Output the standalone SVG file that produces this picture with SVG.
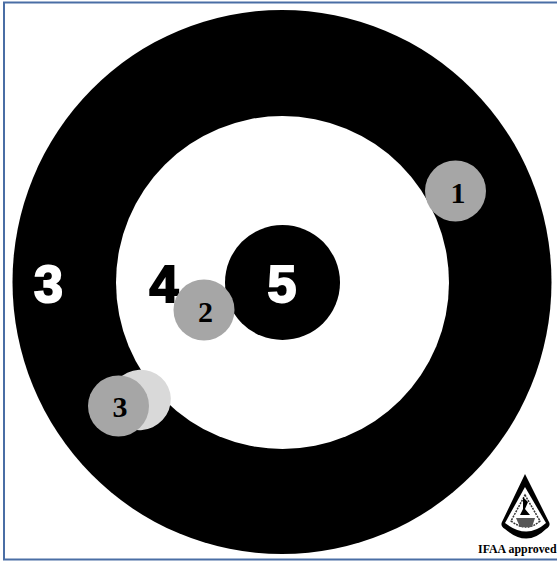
<svg xmlns="http://www.w3.org/2000/svg" width="557" height="561" viewBox="0 0 557 561">
<style>
.big{font-family:"Liberation Sans",Arial,sans-serif;font-weight:700;font-size:52px;text-anchor:middle;stroke-width:2}
.num{font-family:"Liberation Serif","Times New Roman",serif;font-weight:700;font-size:30px;text-anchor:middle;fill:#000}
.hit{fill:#a6a6a6}
</style>
<rect width="557" height="561" fill="#fff"/>
<g id="target">
<ellipse id="ring-outer" cx="282" cy="282" rx="269.500" ry="272" fill="#000"/>
<circle id="ring-inner" cx="282.500" cy="282.500" r="166.500" fill="#fff"/>
<circle id="ring-center" cx="282.500" cy="282.500" r="57.500" fill="#000"/>
<text class="big" x="48.500" y="302" fill="#fff" stroke="#fff">3</text>
<text class="big" x="164" y="302" fill="#000" stroke="#000">4</text>
<text class="big" x="282" y="302" fill="#fff" stroke="#fff">5</text>
</g>
<g id="hit-1"><circle class="hit" cx="455.500" cy="191" r="30.500"/><text class="num" x="458" y="203">1</text></g>
<g id="hit-2"><circle class="hit" cx="204" cy="310" r="30.500"/><text class="num" x="205.500" y="322">2</text></g>
<g id="hit-3-ghost"><ellipse cx="140" cy="400" rx="31" ry="30" fill="#d9d9d9" transform="rotate(-25 140 400)"/></g>
<g id="hit-3"><circle class="hit" cx="118.500" cy="406" r="30.500"/><text class="num" x="120" y="417">3</text></g>
<g id="logo">
<path d="M525 474 L549 522 Q551 526 546 529 Q527 548 505 529 Q500 526 502 522 Z" fill="#000"/>
<path d="M525 487 L546 523 Q527 540 505 523 Z" fill="#fff"/>
<path d="M525 495 L540 521 Q527 533 511 521 Z" fill="none" stroke="#333" stroke-width="1.500" stroke-dasharray="2 1"/>
<path d="M523 497 L528 502 L525 509 L530 515 L520 515 L523 509 Z" fill="#000"/>
<path d="M516 518 H535 L532 527 H520 Z" fill="#555"/>
<text x="478" y="553" font-family="'Liberation Serif',serif" font-weight="700" font-size="11.900">IFAA approved</text>
</g>
<rect id="frame" x="4" y="2.500" width="560" height="557" fill="none" stroke="#4a6ea5" stroke-width="2"/>
</svg>
